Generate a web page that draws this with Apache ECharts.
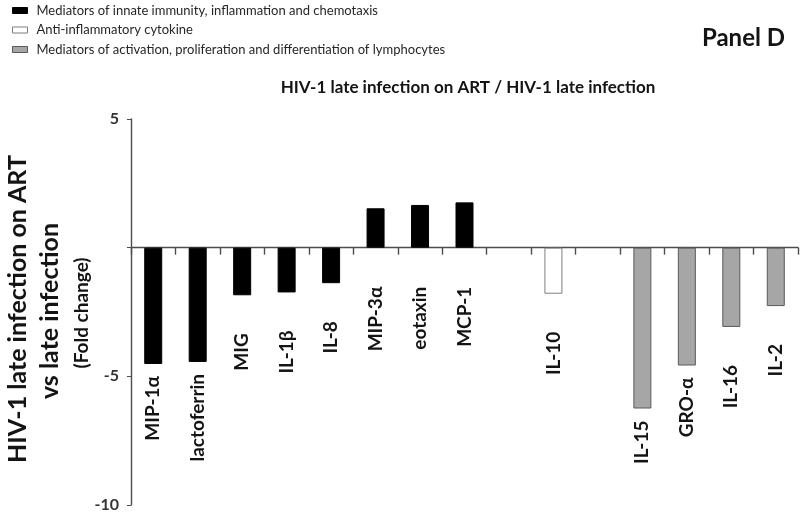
<!DOCTYPE html>
<html><head><meta charset="utf-8">
<script src="https://cdn.jsdelivr.net/npm/echarts@6/dist/echarts.min.js"></script>
<style>html,body{margin:0;padding:0;background:#fff}#c{width:800px;height:513px}</style>
</head><body><div id="c"></div>
<script>
const categories = ['MIP-1α','lactoferrin','MIG','IL-1β','IL-8','MIP-3α','eotaxin','MCP-1','','IL-10','','IL-15','GRO-α','IL-16','IL-2'];
const foldChange = [-4.52,-4.44,-1.85,-1.74,-1.38,1.53,1.66,1.76,null,-1.79,null,-6.25,-4.58,-3.08,-2.27];
const groupOf = [0,0,0,0,0,0,0,0,null,1,null,2,2,2,2];
const groupNames = ['Mediators of innate immunity, inflammation and chemotaxis','Anti-inflammatory cytokine','Mediators of activation, proliferation and differentiation of lymphocytes'];
const yMin = -10, yMax = 5, yStep = 5;

const FONT = 'Lato, sans-serif';
const TXT = '#141414';
const groupStyles = [
  {color:'#000000', borderColor:'#000000', borderWidth:1},
  {color:'#ffffff', borderColor:'#7f7f7f', borderWidth:1},
  {color:'#a6a6a6', borderColor:'#595959', borderWidth:1}
];

function labelDistance(v) {
  if (v > 0) return 39;            // label sits under the axis line
  return Math.abs(v) > 4 ? 12 : 38; // long bars: close to the end; short bars: further down
}

const series = groupNames.map((name, g) => ({
  name: name,
  type: 'bar',
  barWidth: 18,
  barGap: '-100%',
  itemStyle: groupStyles[g],
  label: {
    show: true, position: 'bottom', rotate: 90, align: 'right', verticalAlign: 'middle',
    fontFamily: FONT, fontWeight: 'bold', fontSize: 19, color: TXT,
    formatter: p => categories[p.dataIndex]
  },
  data: categories.map((c, i) => {
    if (groupOf[i] !== g || foldChange[i] == null) return '-';
    const v = foldChange[i];
    return {value: v, label: {distance: labelDistance(v)}};
  })
}));

const chart = echarts.init(document.getElementById('c'), null, {renderer: 'canvas'});
chart.setOption({
  animation: false,
  backgroundColor: '#fff',
  textStyle: {fontFamily: FONT},
  title: [
    {text: 'HIV-1 late infection on ART / HIV-1 late infection', left: 463, top: 74, textAlign: 'center',
     textStyle: {fontFamily: FONT, fontWeight: 'bold', fontSize: 17, color: TXT}},
    {text: 'Panel D', right: 10, top: 21,
     textStyle: {fontFamily: FONT, fontWeight: 'bold', fontSize: 24, color: TXT}}
  ],
  legend: {
    orient: 'vertical', left: 7, top: -1, itemWidth: 15, itemHeight: 6, itemGap: 6.5,
    selectedMode: false,
    textStyle: {fontFamily: FONT, fontSize: 13, color: '#262626', padding: [0, 0, 0, 4]},
    data: groupNames.map((n, g) => ({name: n, icon: 'rect', itemStyle: groupStyles[g]}))
  },
  grid: {left: 131, right: 2, top: 119, bottom: 6, containLabel: false},
  xAxis: {
    type: 'category', data: categories,
    axisLine: {show: true, onZero: true, lineStyle: {color: '#4d4d4d', width: 1.4}},
    axisTick: {show: true, alignWithLabel: false, interval: 0, length: 7, lineStyle: {color: '#4d4d4d', width: 1.4}},
    axisLabel: {show: false}, splitLine: {show: false}
  },
  yAxis: {
    type: 'value', min: yMin, max: yMax, interval: yStep,
    axisLine: {show: true, lineStyle: {color: '#4d4d4d', width: 1.4}},
    axisTick: {show: true, length: 4, lineStyle: {color: '#4d4d4d'}},
    axisLabel: {fontFamily: FONT, fontWeight: 'bold', fontSize: 16, color: '#333', margin: 12,
      formatter: v => v === 0 ? '' : String(v)},
    splitLine: {show: false}
  },
  graphic: [
    {type: 'text', x: 18, y: 309, rotation: Math.PI/2,
     style: {text: 'HIV-1 late infection on ART', font: 'bold 25px Lato', fill: TXT, textAlign: 'center', textVerticalAlign: 'middle'}},
    {type: 'text', x: 50, y: 311, rotation: Math.PI/2,
     style: {text: 'vs late infection', font: 'bold 25px Lato', fill: TXT, textAlign: 'center', textVerticalAlign: 'middle'}},
    {type: 'text', x: 82, y: 313, rotation: Math.PI/2,
     style: {text: '(Fold change)', font: 'bold 19px Lato', fill: TXT, textAlign: 'center', textVerticalAlign: 'middle'}}
  ],
  series: series
});
</script></body></html>
